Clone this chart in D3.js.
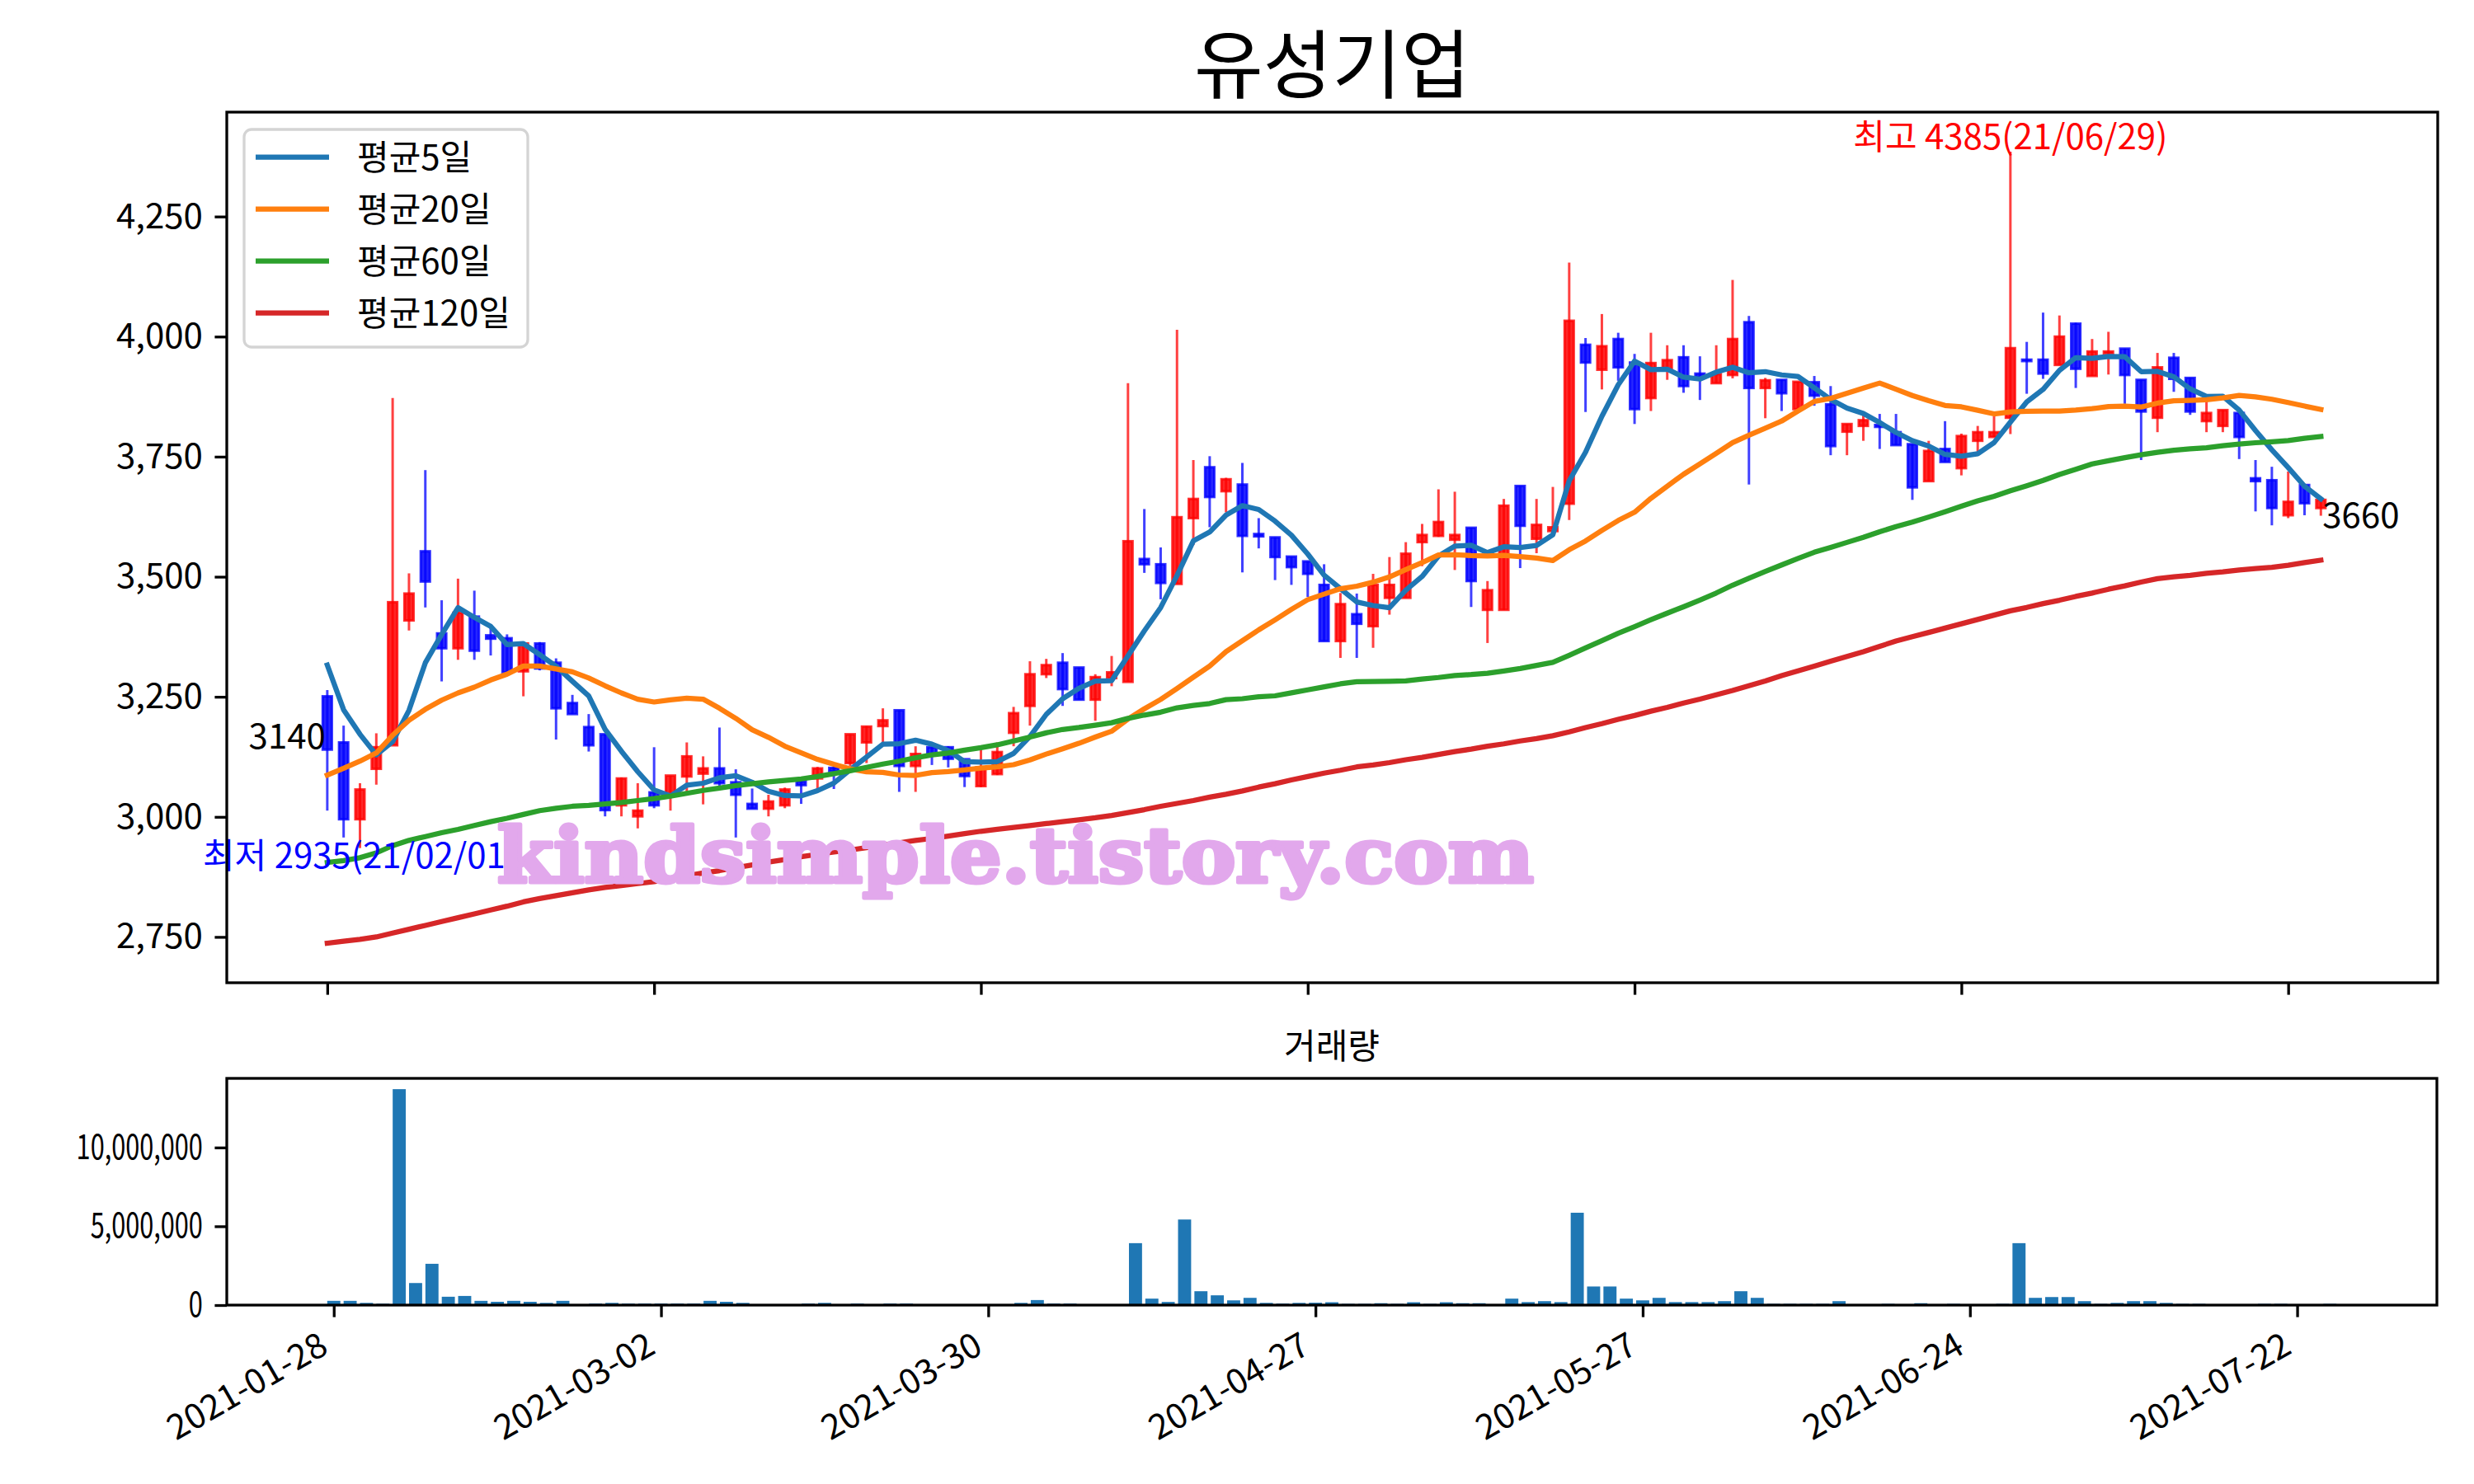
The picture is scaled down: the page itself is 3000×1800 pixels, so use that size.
<!DOCTYPE html>
<html>
<head>
<meta charset="utf-8">
<script src="https://cdn.jsdelivr.net/npm/d3@7"></script>
<style>
body{margin:0;background:#fff;}
text{font-family:"Noto Sans CJK KR","Noto Sans",sans-serif;}
</style>
</head>
<body>
<div id="chart"></div>
<script>
var title = "유성기업";

// trading days, by month
var monthDays = [
  ["2021-01",[28,29]],
  ["2021-02",[1,2,3,4,5,8,9,10,15,16,17,18,19,22,23,24,25,26]],
  ["2021-03",[2,3,4,5,8,9,10,11,12,15,16,17,18,19,22,23,24,25,26,29,30,31]],
  ["2021-04",[1,2,5,6,7,8,9,12,13,14,15,16,19,20,21,22,23,26,27,28,29,30]],
  ["2021-05",[3,4,6,7,10,11,12,13,14,17,18,20,21,24,25,26,27,28,31]],
  ["2021-06",[1,2,3,4,7,8,9,10,11,14,15,16,17,18,21,22,23,24,25,28,29,30]],
  ["2021-07",[1,2,5,6,7,8,9,12,13,14,15,16,19,20,21,22,23,26]]
];

var opens = [3251,3155,2995,3100,3149,3409,3553,3382,3351,3417,
3378,3372,3303,3361,3321,3237,3187,3172,3024,3001,
3051,3047,3084,3090,3101,3072,3027,3017,3024,3074,
3080,3102,3112,3155,3189,3222,3106,3145,3145,3120,
3064,3089,3175,3231,3297,3321,3311,3244,3289,3281,
3537,3526,3485,3622,3728,3678,3692,3589,3582,3542,
3532,3483,3366,3422,3397,3456,3456,3572,3585,3577,
3602,3431,3431,3689,3579,3595,3652,3983,3931,3995,
3946,3872,3931,3957,3923,3903,3920,4030,3893,3910,
3849,3905,3859,3802,3814,3816,3801,3776,3699,3766,
3726,3783,3791,3831,3952,3952,3941,4027,3918,3965,
3975,3910,3831,3956,3914,3824,3814,3841,3705,3701,
3628,3691,3643];

var highs = [3264,3190,3070,3174,3872,3507,3722,3451,3496,3471,
3401,3380,3361,3364,3330,3254,3214,3172,3082,3070,
3145,3086,3155,3126,3186,3099,3059,3046,3061,3077,
3104,3104,3172,3189,3226,3222,3147,3145,3147,3121,
3149,3155,3229,3324,3329,3341,3311,3297,3335,3903,
3641,3561,4014,3743,3751,3706,3737,3622,3582,3542,
3532,3526,3466,3465,3506,3541,3572,3610,3682,3677,
3602,3491,3662,3689,3662,3687,4154,3997,4047,4008,
3964,4008,3982,3982,3959,3982,4118,4043,3914,3910,
3906,3918,3897,3818,3839,3839,3839,3776,3783,3824,
3798,3814,3834,4385,3989,4050,4044,4029,3995,4010,
3975,3910,3966,3966,3914,3867,3847,3841,3743,3729,
3719,3691,3667];

var lows = [3013,2957,2935,3067,3149,3388,3436,3282,3327,3327,
3336,3294,3251,3305,3161,3214,3136,3001,3001,2976,
3018,3013,3051,3026,3063,2957,3017,3001,3018,3027,
3058,3058,3106,3112,3155,3052,3052,3108,3103,3062,
3062,3087,3147,3190,3289,3231,3244,3200,3272,3281,
3508,3453,3485,3566,3603,3634,3509,3559,3493,3483,
3458,3366,3331,3331,3352,3421,3456,3522,3583,3514,
3437,3362,3431,3518,3549,3592,3618,3843,3890,3908,
3818,3845,3910,3883,3868,3903,3913,3692,3830,3845,
3849,3856,3753,3753,3783,3766,3774,3660,3699,3739,
3711,3760,3791,3797,3881,3912,3941,3893,3918,3921,
3860,3743,3801,3885,3837,3801,3801,3745,3636,3607,
3622,3628,3627];

var closes = [3140,2995,3057,3145,3447,3465,3490,3351,3425,3346,
3371,3301,3361,3309,3226,3214,3149,3014,3080,3013,
3024,3086,3126,3101,3070,3046,3017,3032,3057,3066,
3101,3095,3172,3188,3201,3106,3131,3131,3121,3085,
3103,3135,3216,3297,3316,3266,3244,3291,3301,3574,
3526,3487,3624,3662,3666,3703,3585,3584,3541,3520,
3506,3366,3443,3402,3483,3483,3548,3587,3614,3587,
3491,3472,3648,3606,3608,3603,4033,3946,3980,3936,
3849,3945,3951,3897,3916,3922,3995,3893,3909,3882,
3906,3877,3772,3818,3826,3812,3774,3686,3762,3739,
3793,3801,3801,3976,3949,3923,4000,3933,3969,3969,
3920,3844,3936,3912,3844,3841,3847,3791,3699,3643,
3656,3653,3660];

var volumes = [270000,270000,140000,90000,13700000,1400000,2620000,530000,580000,270000,
210000,270000,210000,140000,270000,20000,100000,140000,100000,100000,
100000,100000,100000,270000,210000,140000,10000,10000,10000,100000,
140000,10000,100000,10000,100000,100000,10000,10000,10000,10000,
10000,10000,140000,320000,100000,100000,10000,10000,10000,3930000,
410000,200000,5430000,880000,620000,300000,460000,140000,100000,140000,
150000,180000,80000,80000,120000,80000,180000,80000,180000,120000,
120000,20000,410000,190000,250000,190000,5860000,1180000,1180000,410000,
300000,460000,190000,190000,190000,250000,880000,460000,80000,80000,
80000,80000,250000,10000,10000,80000,10000,120000,10000,80000,
10000,10000,80000,3930000,460000,510000,510000,250000,80000,140000,
250000,250000,140000,80000,80000,10000,10000,10000,80000,80000,
10000,10000,80000];

// moving averages before the window is full (need history not on the chart)
var ma5Early = [3316,3223,3172,3129];
var ma20Early = [3087,3101,3116,3133,3170,3201,3224,3243,3258,3270,
3285,3297,3314,3314,3308,3302,3289,3273,3258];
var ma60Early = [2905,2909,2915,2925,2940,2951,2959,2967,2974,2982,
2990,2997,3005,3013,3018,3022,3024,3027,3030,3034,
3038,3043,3049,3055,3060,3065,3069,3073,3076,3079,
3084,3090,3096,3103,3110,3116,3123,3129,3133,3139,
3144,3150,3158,3166,3175,3182,3186,3191,3196,3205,
3212,3218,3227,3232,3236,3244,3246,3250,3252];
var ma120Early = [2737,2741,2745,2750,2758,2766,2774,2782,2790,2798,
2806,2814,2823,2830,2836,2842,2848,2853,2857,2861,
2865,2871,2877,2883,2888,2894,2900,2906,2911,2917,
2922,2927,2931,2936,2941,2946,2951,2955,2960,2965,
2970,2974,2978,2982,2986,2990,2994,2998,3003,3009,
3015,3022,3028,3034,3041,3047,3054,3062,3069,3077,
3084,3091,3097,3104,3108,3113,3119,3124,3130,3136,
3141,3147,3152,3158,3163,3169,3177,3186,3194,3203,
3211,3220,3228,3237,3245,3254,3263,3273,3283,3294,
3304,3314,3324,3334,3344,3355,3366,3375,3384,3393,
3402,3411,3420,3429,3436,3444,3451,3459,3466,3474,
3481,3489,3496,3500,3503,3507,3510,3514,3517];

var maNames = ["평균5일","평균20일","평균60일","평균120일"];
var maColors = ["#1f77b4","#ff7f0e","#2ca02c","#d62728"];
var priceTicks = [2750,3000,3250,3500,3750,4000,4250];
var volTicks = [0,5000000,10000000];
var tickIdx = [0,20,40,60,80,100,120];
var watermark = "kindsimple.tistory.com";

var dates = [];
monthDays.forEach(function(m){
  m[1].forEach(function(d){ dates.push(m[0]+"-"+(d<10?"0"+d:""+d)); });
});

function movingAvg(early, win){
  return closes.map(function(c,i){
    if(i < win-1) return early[i];
    return d3.mean(closes.slice(i-win+1, i+1));
  });
}
var mas = [movingAvg(ma5Early,5), movingAvg(ma20Early,20), movingAvg(ma60Early,60), movingAvg(ma120Early,120)];

var W=3000, H=1800;
var mL=275, mR=2956, mT=136, mB=1192;
var vL=275, vR=2955, vT=1308, vB=1583;
var n = closes.length;
var fs = 42;

var svg = d3.select("#chart").append("svg")
  .attr("width",W).attr("height",H)
  .style("display","block");
svg.append("rect").attr("width",W).attr("height",H).attr("fill","#fff");

// scales
var x = d3.scaleLinear().domain([-0.05*n, 1.05*n]).range([mL,mR]);
var allLo = d3.min([d3.min(lows)].concat(mas.map(function(a){return d3.min(a);})));
var allHi = d3.max([d3.max(highs)].concat(mas.map(function(a){return d3.max(a);})));
var pad = (allHi-allLo)*0.05;
var y = d3.scaleLinear().domain([allLo-pad, allHi+pad]).range([mB,mT]);

var vSpan = (n-1)+0.8;
var xv = d3.scaleLinear().domain([-0.4-0.05*vSpan, n-1+0.4+0.05*vSpan]).range([vL,vR]);
var yv = d3.scaleLinear().domain([0, d3.max(volumes)*1.05]).range([vB,vT]);

// title
svg.append("text").attr("x",(mL+mR)/2).attr("y",112)
  .attr("text-anchor","middle").attr("font-size",91).attr("fill","#000")
  .text(title);

// candles
var bw = (x(0.56)-x(0));
var cg = svg.append("g");
var candle = cg.selectAll("g.c").data(closes).enter().append("g").attr("class","c");
candle.append("line")
  .attr("x1",function(d,i){return x(i);}).attr("x2",function(d,i){return x(i);})
  .attr("y1",function(d,i){return y(highs[i]);})
  .attr("y2",function(d,i){return y(lows[i]);})
  .attr("stroke",function(d,i){return d>=opens[i]?"#ff0000":"#0000ff";})
  .attr("stroke-opacity",0.75)
  .attr("stroke-width",3);
candle.append("rect")
  .attr("x",function(d,i){return x(i)-bw/2;})
  .attr("width",bw)
  .attr("y",function(d,i){return y(Math.max(d,opens[i]));})
  .attr("height",function(d,i){return Math.max(1,Math.abs(y(d)-y(opens[i])));})
  .attr("fill",function(d,i){return d>=opens[i]?"#ff0000":"#0000ff";})
  .attr("fill-opacity",0.85)
  .attr("stroke",function(d,i){return d>=opens[i]?"#ff0000":"#0000ff";})
  .attr("stroke-opacity",0.8)
  .attr("stroke-width",3);

// moving average lines
var line = d3.line().x(function(d,i){return x(i);}).y(function(d){return y(d);});
mas.forEach(function(a,k){
  svg.append("path").datum(a)
    .attr("d",line)
    .attr("fill","none")
    .attr("stroke",maColors[k])
    .attr("stroke-width",6.25)
    .attr("stroke-linejoin","round")
    .attr("stroke-linecap","square");
});

// high / low / first / last labels
var hiIdx = d3.maxIndex(highs), loIdx = d3.minIndex(lows);
function shortDate(s){ return s.slice(2).replace(/-/g,"/"); }
svg.append("text").attr("x",x(hiIdx)).attr("y",y(highs[hiIdx])-3)
  .attr("text-anchor","middle").attr("font-size",fs).attr("fill","#ff0000")
  .text("최고 "+highs[hiIdx]+"("+shortDate(dates[hiIdx])+")");
svg.append("text").attr("x",x(loIdx)).attr("y",y(lows[loIdx])+24)
  .attr("text-anchor","middle").attr("font-size",fs).attr("fill","#0000ff")
  .text("최저 "+lows[loIdx]+"("+shortDate(dates[loIdx])+")");
svg.append("text").attr("x",x(0)-2).attr("y",y(closes[0])-1)
  .attr("text-anchor","end").attr("font-size",fs).attr("fill","#000")
  .text(closes[0]);
svg.append("text").attr("x",x(n-1)+2).attr("y",y(closes[n-1])+34)
  .attr("text-anchor","start").attr("font-size",fs).attr("fill","#000")
  .text(closes[n-1]);

// legend
var lg = svg.append("g");
lg.append("rect").attr("x",296).attr("y",157).attr("width",344).attr("height",264)
  .attr("rx",9).attr("fill","#fff").attr("fill-opacity",0.8)
  .attr("stroke","#d4d4d4").attr("stroke-width",3.3);
maNames.forEach(function(nm,k){
  var ly = 190.7 + k*63;
  lg.append("line").attr("x1",310).attr("x2",399).attr("y1",ly).attr("y2",ly)
    .attr("stroke",maColors[k]).attr("stroke-width",6.25);
  lg.append("text").attr("x",433).attr("y",ly+15).attr("font-size",fs).attr("fill","#000").text(nm);
});

// main axes
var fmt = d3.format(",");
var yAx = svg.append("g").attr("transform","translate("+mL+",0)")
  .call(d3.axisLeft(y).tickValues(priceTicks).tickFormat(fmt).tickSizeOuter(0).tickSize(14.6).tickPadding(14.6));
var xAx = svg.append("g").attr("transform","translate(0,"+mB+")")
  .call(d3.axisBottom(x).tickValues(tickIdx).tickFormat("").tickSizeOuter(0).tickSize(14.6));
[yAx,xAx].forEach(function(g){
  g.select(".domain").remove();
  g.selectAll("line").attr("stroke","#000").attr("stroke-width",3.3);
  g.selectAll("text").attr("font-size",fs).attr("fill","#000").style("font-family","'Noto Sans CJK KR'");
});
svg.append("rect").attr("x",mL).attr("y",mT).attr("width",mR-mL).attr("height",mB-mT)
  .attr("fill","none").attr("stroke","#000").attr("stroke-width",3.3);

// volume
svg.append("text").attr("x",(vL+vR)/2).attr("y",1284)
  .attr("text-anchor","middle").attr("font-size",fs).attr("fill","#000").text("거래량");
svg.append("g").selectAll("rect").data(volumes).enter().append("rect")
  .attr("x",function(d,i){return xv(i-0.4);})
  .attr("width",xv(0.8)-xv(0))
  .attr("y",function(d){return yv(d);})
  .attr("height",function(d){return vB-yv(d);})
  .attr("fill","#1f77b4");

var yvAx = svg.append("g").attr("transform","translate("+vL+",0)")
  .call(d3.axisLeft(yv).tickValues(volTicks).tickFormat(fmt).tickSizeOuter(0).tickSize(14.6).tickPadding(14.6));
var xvAx = svg.append("g").attr("transform","translate(0,"+vB+")")
  .call(d3.axisBottom(xv).tickValues(tickIdx).tickFormat(function(d){return dates[d];}).tickSizeOuter(0).tickSize(14.6));
[yvAx,xvAx].forEach(function(g){
  g.select(".domain").remove();
  g.selectAll("line").attr("stroke","#000").attr("stroke-width",3.3);
  g.selectAll("text").attr("font-size",fs).attr("fill","#000").style("font-family","'Noto Sans CJK KR'");
});
// volume labels are set narrower in the original
yvAx.selectAll("text").each(function(){
  var t = d3.select(this);
  var len = this.getComputedTextLength();
  t.attr("textLength", len*0.73).attr("lengthAdjust","spacingAndGlyphs");
});
xvAx.selectAll("text")
  .attr("y",null).attr("dy",null)
  .attr("text-anchor","end")
  .attr("transform","translate(-5,57) rotate(-30)");
svg.append("rect").attr("x",vL).attr("y",vT).attr("width",vR-vL).attr("height",vB-vT)
  .attr("fill","none").attr("stroke","#000").attr("stroke-width",3.3);

// watermark on top
svg.append("text").attr("x",603).attr("y",1070)
  .attr("font-size",92).attr("font-weight","bold")
  .style("font-family","'DejaVu Serif',serif")
  .attr("textLength",1257).attr("lengthAdjust","spacingAndGlyphs")
  .attr("fill","#e2a8ec")
  .attr("stroke","#e2a8ec").attr("stroke-width",5).attr("stroke-linejoin","round")
  .text(watermark);
</script>
</body>
</html>
